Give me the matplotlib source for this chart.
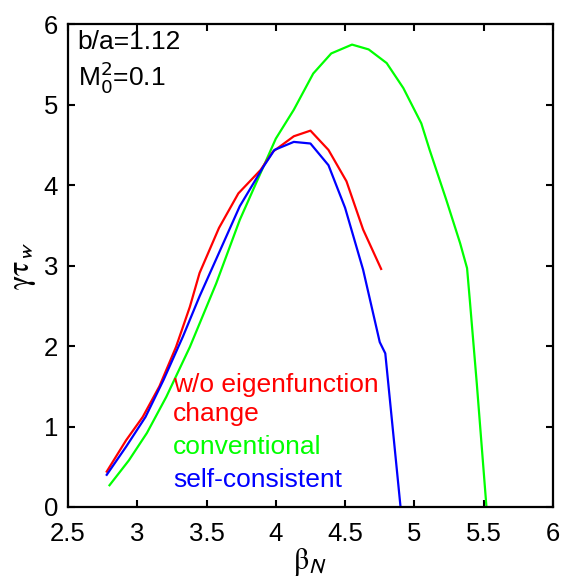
import matplotlib
matplotlib.use("Agg")
import matplotlib.pyplot as plt
from matplotlib.ticker import FormatStrFormatter

plt.rcParams["font.family"] = ["Liberation Sans", "DejaVu Sans"]

# growth rate vs beta_N
red_beta = [2.78, 2.92, 3.04, 3.16, 3.28, 3.38, 3.45, 3.59, 3.73, 3.89, 3.98,
            4.13, 4.25, 4.38, 4.51, 4.63, 4.76]
red_gamma = [0.44, 0.83, 1.12, 1.50, 1.99, 2.49, 2.91, 3.47, 3.90, 4.19, 4.42,
             4.61, 4.68, 4.44, 4.05, 3.45, 2.96]

green_beta = [2.80, 2.94, 3.07, 3.21, 3.38, 3.57, 3.74, 3.91, 4.00, 4.13, 4.27,
              4.40, 4.55, 4.67, 4.80, 4.92, 5.05, 5.11, 5.23, 5.33, 5.38, 5.40,
              5.45, 5.52]
green_gamma = [0.27, 0.58, 0.92, 1.37, 1.99, 2.78, 3.57, 4.23, 4.58, 4.94, 5.39,
               5.64, 5.75, 5.69, 5.52, 5.21, 4.77, 4.44, 3.82, 3.28, 2.97, 2.57,
               1.54, 0.0]

blue_beta = [2.78, 2.92, 3.06, 3.19, 3.33, 3.45, 3.59, 3.74, 3.91, 3.99, 4.13,
             4.25, 4.38, 4.50, 4.63, 4.75, 4.79, 4.90]
blue_gamma = [0.40, 0.75, 1.12, 1.58, 2.12, 2.62, 3.16, 3.74, 4.23, 4.44, 4.54,
              4.52, 4.25, 3.72, 2.95, 2.05, 1.91, 0.0]

labels = ["w/o eigenfunction", "change", "conventional", "self-consistent"]
label_colors = ["#ff0000", "#ff0000", "#00ff00", "#0000ff"]
label_y = [1.52, 1.16, 0.75, 0.34]

fig = plt.figure(figsize=(5.66, 5.79), dpi=100)
ax = fig.add_axes([0.120, 0.1244, 0.857, 0.8333])

ax.plot(green_beta, green_gamma, color="#00ff00", lw=1.6)
ax.plot(red_beta, red_gamma, color="#ff0000", lw=1.6)
ax.plot(blue_beta, blue_gamma, color="#0000ff", lw=1.6)

ax.set_xlim(2.5, 6)
ax.set_ylim(0, 6)
ax.set_xticks([2.5, 3, 3.5, 4, 4.5, 5, 5.5, 6])
ax.set_yticks(range(7))
ax.xaxis.set_major_formatter(FormatStrFormatter("%g"))
ax.tick_params(direction="in", top=True, right=True, length=5, width=1.5,
               labelsize=18.5)
ax.tick_params(axis="x", pad=11)
ax.tick_params(axis="y", pad=7)
for s in ax.spines.values():
    s.set_linewidth(1.6)

ax.set_xlabel(r"$\mathrm{\beta}_{\mathsf{N}}$", fontsize=22,
              math_fontfamily="stix", labelpad=0)
ax.set_ylabel(r"$\mathrm{\gamma\tau}_{\mathsf{w}}$", fontsize=22,
              math_fontfamily="stix", labelpad=4)

ax.text(2.57, 5.78, "b/a=1.12", fontsize=19, va="center", ha="left")
ax.text(2.57, 5.35, r"M$_0^2$=0.1", fontsize=19, va="center", ha="left",
        math_fontfamily="custom")

for txt, c, y in zip(labels, label_colors, label_y):
    ax.text(3.258, y, txt, color=c, fontsize=19, va="center", ha="left")

fig.savefig("out.png", dpi=100)
